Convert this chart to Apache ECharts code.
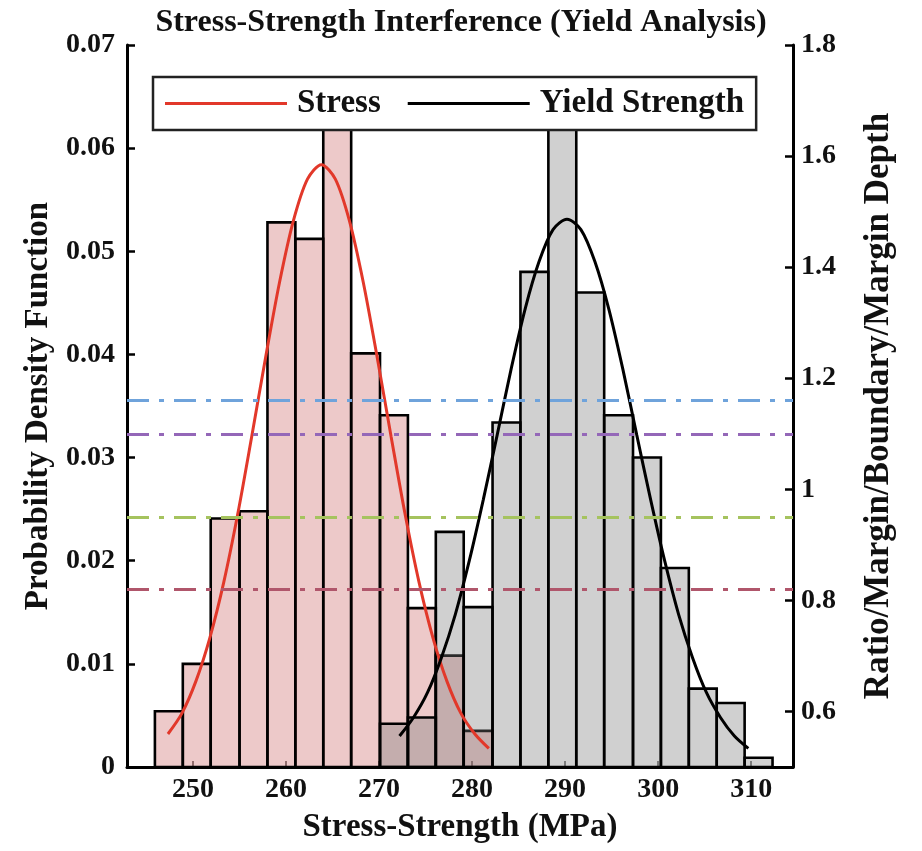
<!DOCTYPE html>
<html>
<head>
<meta charset="utf-8">
<title>Stress-Strength Interference (Yield Analysis)</title>
<script src="https://cdn.jsdelivr.net/npm/echarts@6/dist/echarts.min.js"></script>
<style>
html, body { margin: 0; padding: 0; background: #fff; }
#chart { width: 922px; height: 851px; }
</style>
</head>
<body>
<div id="chart"></div>
<script>
// histogram bin edges (MPa), shared by both samples
const binEdges = [245.9, 248.9, 251.9, 255.0, 258.0, 261.0, 264.0, 267.0, 270.1, 273.1, 276.1, 279.1,
    282.2, 285.2, 288.2, 291.2, 294.2, 297.3, 300.3, 303.3, 306.3, 309.3, 312.3];

// stress histogram: bins 0..11
const stressFirstBin = 0;
const stressDensity = [0.0054, 0.0100, 0.0241, 0.0248, 0.0528, 0.0512, 0.0645, 0.0401, 0.0341, 0.0154, 0.0108, 0.0035];

// yield strength histogram: bins 8..21
const strengthFirstBin = 8;
const strengthDensity = [0.0042, 0.0048, 0.0228, 0.0155, 0.0334, 0.0480, 0.0660, 0.0460, 0.0341, 0.0300,
    0.0193, 0.0076, 0.0062, 0.0009];

// fitted pdf curves
const stressCurveX = [247.3, 248.8, 250.3, 251.8, 253.3, 254.8, 256.3, 257.8, 259.3, 260.8, 262.3, 263.8,
    265.3, 266.8, 268.3, 269.8, 271.3, 272.8, 274.3, 275.8, 277.3, 278.8, 280.3, 281.8];
const stressCurveY = [0.0032, 0.0052, 0.0083, 0.0125, 0.0179, 0.0245, 0.0320, 0.0397, 0.0470, 0.0530, 0.0570, 0.0584,
    0.0570, 0.0530, 0.0470, 0.0397, 0.0320, 0.0245, 0.0179, 0.0125, 0.0083, 0.0052, 0.0032, 0.0018];
const strengthCurveX = [272.2, 273.7, 275.2, 276.7, 278.2, 279.7, 281.2, 282.7, 284.2, 285.7, 287.2, 288.7, 290.2,
    291.7, 293.2, 294.7, 296.2, 297.7, 299.2, 300.7, 302.2, 303.7, 305.2, 306.7, 308.2, 309.7];
const strengthCurveY = [0.0030, 0.0048, 0.0072, 0.0106, 0.0148, 0.0200, 0.0259, 0.0322, 0.0386, 0.0444, 0.0490, 0.0521, 0.0531,
    0.0521, 0.0490, 0.0444, 0.0386, 0.0322, 0.0259, 0.0200, 0.0148, 0.0106, 0.0072, 0.0048, 0.0030, 0.0018];

// reference levels on the right axis
const levelNames = ['Ratio', 'Margin', 'Boundary', 'Margin Depth'];
const levelValues = [1.16, 1.10, 0.955, 0.82];
const levelColors = ['#6fa3db', '#9467b8', '#a5c35e', '#b0566b'];

// axis ticks
const xTicks = [250, 260, 270, 280, 290, 300, 310];
const rightTicks = [0.6, 0.8, 1, 1.2, 1.4, 1.6, 1.8];

const FONT = "'Liberation Serif', 'Times New Roman', serif";

function histData(first, values) {
    return values.map((v, i) => [binEdges[first + i], binEdges[first + i + 1], v]);
}

function histRender(fill) {
    return function (params, api) {
        const p0 = api.coord([api.value(0), api.value(2)]);
        const p1 = api.coord([api.value(1), 0]);
        return {
            type: 'rect',
            shape: { x: p0[0], y: p0[1], width: p1[0] - p0[0], height: p1[1] - p0[1] },
            style: { fill: fill, stroke: '#000', lineWidth: 2.6 }
        };
    };
}

const axisText = { fontFamily: FONT, fontWeight: 'bold', fontSize: 28, color: '#111' };
const nameText = { fontFamily: FONT, fontWeight: 'bold', fontSize: 33, color: '#111' };

const chart = echarts.init(document.getElementById('chart'));

chart.setOption({
    animation: false,
    backgroundColor: '#fff',
    title: {
        text: 'Stress-Strength Interference (Yield Analysis)',
        left: 'center',
        top: 2,
        textStyle: { fontFamily: FONT, fontWeight: 'bold', fontSize: 32, color: '#111' }
    },
    legend: {
        data: ['Stress', 'Yield Strength'],
        left: 153,
        top: 77,
        icon: 'rect',
        itemWidth: 122,
        itemHeight: 3,
        itemGap: 27,
        padding: [10, 12, 10, 12],
        borderColor: '#222',
        borderWidth: 2.5,
        backgroundColor: '#fff',
        textStyle: {
            fontFamily: FONT, fontWeight: 'bold', fontSize: 33, color: '#111',
            lineHeight: 33, padding: [0, 0, 0, 5]
        }
    },
    grid: { left: 127, right: 129, top: 45, bottom: 84 },
    xAxis: {
        type: 'value',
        min: 242.9,
        max: 314.5,
        name: 'Stress-Strength (MPa)',
        nameLocation: 'middle',
        nameGap: 44,
        nameTextStyle: nameText,
        axisLine: { lineStyle: { color: '#000', width: 3 } },
        axisTick: { inside: true, length: 6, customValues: xTicks, lineStyle: { color: '#555', width: 1.5 } },
        axisLabel: Object.assign({ margin: 9, customValues: xTicks }, axisText),
        splitLine: { show: false }
    },
    yAxis: [
        {
            type: 'value',
            min: 0,
            max: 0.07,
            interval: 0.01,
            name: 'Probability Density Function',
            nameLocation: 'middle',
            nameRotate: 90,
            nameGap: 70,
            nameTextStyle: nameText,
            axisLine: { show: true, lineStyle: { color: '#000', width: 3 } },
            axisTick: { inside: true, length: 8, lineStyle: { color: '#000', width: 2.5 } },
            axisLabel: Object.assign({ margin: 12 }, axisText),
            splitLine: { show: false }
        },
        {
            type: 'value',
            position: 'right',
            min: 0.5,
            max: 1.8,
            name: levelNames.join('/'),
            nameLocation: 'middle',
            nameRotate: 90,
            nameGap: 68,
            nameTextStyle: Object.assign({}, nameText, { fontSize: 35 }),
            axisLine: { show: true, lineStyle: { color: '#000', width: 3 } },
            axisTick: { inside: true, length: 8, customValues: rightTicks, lineStyle: { color: '#000', width: 2.5 } },
            axisLabel: Object.assign({ margin: 8, customValues: rightTicks }, axisText),
            splitLine: { show: false }
        }
    ],
    series: [
        {
            name: 'Stress hist',
            type: 'custom',
            z: 2,
            renderItem: histRender('rgba(190,60,60,0.28)'),
            encode: { x: [0, 1], y: 2 },
            data: histData(stressFirstBin, stressDensity)
        },
        {
            name: 'Strength hist',
            type: 'custom',
            z: 2,
            renderItem: histRender('rgba(120,120,120,0.35)'),
            encode: { x: [0, 1], y: 2 },
            data: histData(strengthFirstBin, strengthDensity)
        },
        {
            name: 'levels',
            type: 'line',
            yAxisIndex: 1,
            z: 3,
            data: [],
            markLine: {
                silent: true,
                symbol: 'none',
                label: { show: false },
                data: levelValues.map((v, i) => ({
                    yAxis: v,
                    lineStyle: { color: levelColors[i], width: 3, type: [22, 10, 5, 10] }
                }))
            }
        },
        {
            name: 'Stress',
            type: 'line',
            z: 4,
            smooth: 0.3,
            showSymbol: false,
            color: '#e2382a',
            lineStyle: { width: 3, color: '#e2382a' },
            data: stressCurveX.map((x, i) => [x, stressCurveY[i]])
        },
        {
            name: 'Yield Strength',
            type: 'line',
            z: 4,
            smooth: 0.3,
            showSymbol: false,
            color: '#000',
            lineStyle: { width: 3, color: '#000' },
            data: strengthCurveX.map((x, i) => [x, strengthCurveY[i]])
        }
    ]
});
</script>
</body>
</html>
